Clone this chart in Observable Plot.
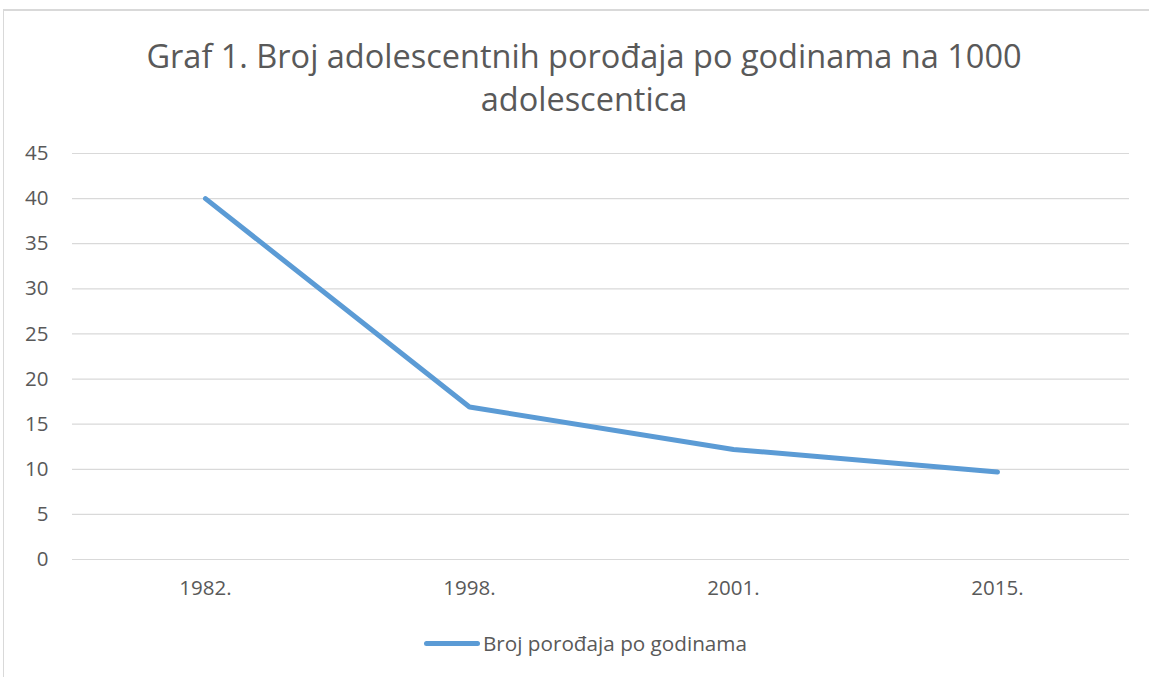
<!DOCTYPE html>
<html>
<head>
<meta charset="utf-8">
<script src="https://cdn.jsdelivr.net/npm/d3@7"></script>
<script src="https://cdn.jsdelivr.net/npm/@observablehq/plot@0.6"></script>
<style>
  html, body { margin: 0; padding: 0; background: #fff; overflow: hidden; }
  #frame { position: absolute; left: 3px; top: 9px; width: 1160px; height: 700px;
           border-left: 1.5px solid #d9d9d9; border-top: 2px solid #d9d9d9; }
  #title { position: absolute; left: 0; width: 1168px; top: 34px; text-align: center;
           font-family: "Open Sans", sans-serif; font-weight: 400; font-size: 32.5px;
           line-height: 43px; color: #595959; }
  #chart { position: absolute; left: 0; top: 130px; }
  #legend { position: absolute; left: 424px; top: 630px; font-family: "Open Sans", sans-serif;
            font-size: 20.7px; color: #595959; display: flex; align-items: center; height: 26px; }
  #legend .sw { display: inline-block; width: 56px; height: 5px; background: #5b9bd5; border-radius: 3px; margin-right: 3px; }
</style>
</head>
<body>
<div id="frame"></div>
<div id="title">Graf 1. Broj adolescentnih porođaja po godinama na 1000<br>adolescentica</div>
<div id="chart"></div>
<div id="legend"><span class="sw"></span><span id="legendLabel"></span></div>
<script>
const years = ["1982.", "1998.", "2001.", "2015."];
const births = [40, 16.9, 12.2, 9.7];
const yTicks = [0, 5, 10, 15, 20, 25, 30, 35, 40, 45];
const seriesName = "Broj porođaja po godinama";

document.getElementById("legendLabel").textContent = seriesName;

const data = years.map((y, i) => ({year: y, value: births[i]}));

const chart = Plot.plot({
  width: 1149,
  height: 480,
  marginLeft: 72,
  marginRight: 20,
  marginTop: 23,
  marginBottom: 51,
  style: {fontFamily: "'Open Sans', sans-serif", fontSize: "20.5px", color: "#595959", background: "transparent"},
  x: {type: "point", domain: years, padding: 0.5, label: null},
  y: {domain: [0, 45], label: null},
  marks: [
    Plot.gridY(yTicks, {stroke: "#d9d9d9", strokeOpacity: 1, strokeWidth: 1.2}),
    Plot.axisY(yTicks, {tickSize: 0, tickPadding: 24, fontSize: 20.5, fill: "#595959", label: null}),
    Plot.axisX({tickSize: 0, tickPadding: 21, fontSize: 20.5, fill: "#595959", label: null}),
    Plot.line(data, {x: "year", y: "value", stroke: "#5b9bd5", strokeWidth: 5, strokeLinecap: "round", strokeLinejoin: "round"})
  ]
});
document.getElementById("chart").appendChild(chart);
</script>
</body>
</html>
